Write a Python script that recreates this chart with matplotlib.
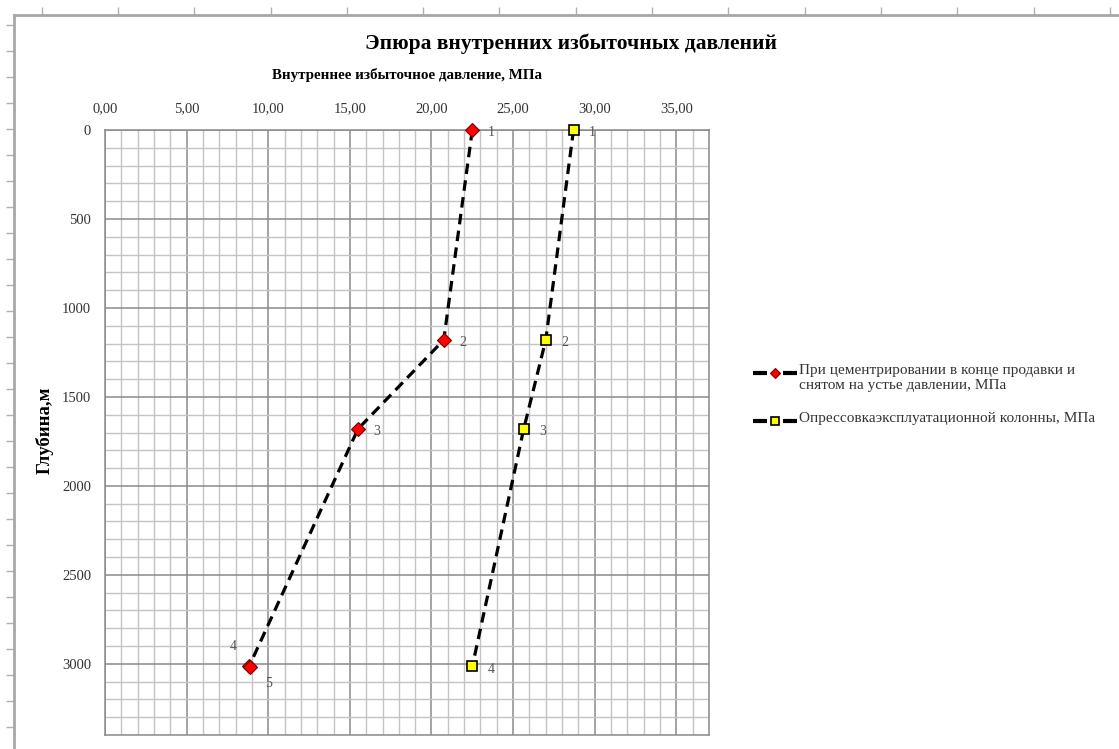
import matplotlib
matplotlib.use("Agg")
import matplotlib.pyplot as plt
from matplotlib.ticker import MultipleLocator, FuncFormatter
from matplotlib.lines import Line2D

plt.rcParams['font.family'] = ['Liberation Serif', 'DejaVu Serif']

# Pressure profiles, MPa vs depth, m
depth_cement = [0, 1180, 1680, 3010, 3020]
press_cement = [22.5, 20.75, 15.5, 8.85, 8.9]
labels_cement = ["1", "2", "3", "4", "5"]

depth_test = [0, 1180, 1680, 3015]
press_test = [28.7, 27.0, 25.65, 22.5]
labels_test = ["1", "2", "3", "4"]

series_names = [
    "При цементрировании в конце продавки и\nснятом на устье давлении, МПа",
    "Опрессовкаэксплуатационной колонны, МПа",
]
title = "Эпюра внутренних избыточных давлений"
x_title = "Внутреннее избыточное давление, МПа"
y_title = "Глубина,м"

W, H = 1119, 749
fig = plt.figure(figsize=(W / 100, H / 100), dpi=100)


def fx(px):
    return px / W


def fy(py):
    return 1 - py / H


# outer frame with ruler-like ticks
frame = fig.add_axes([fx(14), 0, 1 - fx(14), fy(15)])
frame.set_xlim(14, W)
frame.set_ylim(H, 15)
for s in ("right", "bottom"):
    frame.spines[s].set_visible(False)
for s in ("top", "left"):
    frame.spines[s].set_color("#a8a8a8")
    frame.spines[s].set_linewidth(2)
frame.xaxis.tick_top()
frame.set_xticks([41.7 + 76.3 * k for k in range(15)])
frame.set_yticks([25 + 26 * k for k in range(28)])
frame.tick_params(axis="both", direction="out", length=6, color="#b0b0b0",
                  width=1, labeltop=False, labelleft=False, labelbottom=False)
frame.set_facecolor("none")

ax = fig.add_axes([fx(105), fy(735), fx(709 - 105), (735 - 130) / H])
ax.set_xlim(0, 37)
ax.set_ylim(3400, 0)
ax.xaxis.set_major_locator(MultipleLocator(5))
ax.xaxis.set_minor_locator(MultipleLocator(1))
ax.yaxis.set_major_locator(MultipleLocator(500))
ax.yaxis.set_minor_locator(MultipleLocator(100))
ax.grid(which="minor", color="#c4c4c4", linewidth=1.0)
ax.grid(which="major", color="#8a8a8a", linewidth=1.1)
ax.set_axisbelow(True)
for s in ax.spines.values():
    s.set_color("#8a8a8a")
    s.set_linewidth(1.1)
ax.xaxis.tick_top()
ax.xaxis.set_major_formatter(FuncFormatter(lambda v, p: f"{v:.2f}".replace(".", ",")))
ax.yaxis.set_major_formatter(FuncFormatter(lambda v, p: f"{int(v)}" if v <= 3000 else ""))
ax.tick_params(which="both", length=0)
ax.tick_params(axis="x", pad=11, labelsize=10.5, labelcolor="#333333")
ax.tick_params(axis="y", pad=10, labelsize=10.5, labelcolor="#333333")

dash = (3.3, 2.0)
lw = 2.3
red_style = dict(color="black", linewidth=lw, linestyle=(0, dash), marker="D",
                 markersize=7, markerfacecolor="#ff0000", markeredgecolor="#7a0000",
                 markeredgewidth=0.8)
yel_style = dict(color="black", linewidth=lw, linestyle=(0, dash), marker="s",
                 markersize=7, markerfacecolor="#ffff00", markeredgecolor="black",
                 markeredgewidth=1.2)
ax.plot(press_cement, depth_cement, clip_on=False, zorder=3, **red_style)
ax.plot(press_test, depth_test, clip_on=False, zorder=3, **yel_style)

lbl_kw = dict(fontsize=10, color="#555555", va="center")
for x, y, t in zip(press_cement, depth_cement, labels_cement):
    if t == "4":
        ax.annotate(t, (x, y), xytext=(-11.5, 14), textcoords="offset points", ha="center", **lbl_kw)
    elif t == "5":
        ax.annotate(t, (x, y), xytext=(13, -11.5), textcoords="offset points", ha="center", **lbl_kw)
    else:
        ax.annotate(t, (x, y), xytext=(11, -2), textcoords="offset points", ha="left", **lbl_kw)
for x, y, t in zip(press_test, depth_test, labels_test):
    ax.annotate(t, (x, y), xytext=(11, -2), textcoords="offset points", ha="left", **lbl_kw)

fig.text(fx(571), fy(44), title, ha="center", va="center",
         fontsize=15.5, fontweight="bold")
fig.text(fx(407), fy(75), x_title, ha="center", va="center",
         fontsize=10.8, fontweight="bold")
fig.text(fx(45), fy(430), y_title, ha="center", va="center",
         rotation=90, fontsize=13.5, fontweight="bold")

# legend: "— marker —" handle aligned with the first text line of each entry
leg_rows = [(373, red_style, 5), (421, yel_style, 6)]
for (py, style, msize), name in zip(leg_rows, series_names):
    for x0, x1 in ((753, 767), (783, 797)):
        fig.add_artist(Line2D([fx(x0), fx(x1)], [fy(py), fy(py)],
                              transform=fig.transFigure, color="black",
                              linewidth=3.0, solid_capstyle="butt"))
    mk = {k: v for k, v in style.items() if k.startswith("marker")}
    mk["markersize"] = msize
    fig.add_artist(Line2D([fx(775)], [fy(py)], transform=fig.transFigure,
                          linestyle="none", **mk))
    fig.text(fx(799), fy(py - 9), name, ha="left", va="top", fontsize=11,
             color="#333333", linespacing=1.2)

fig.savefig("out.png", dpi=100, facecolor="white")
